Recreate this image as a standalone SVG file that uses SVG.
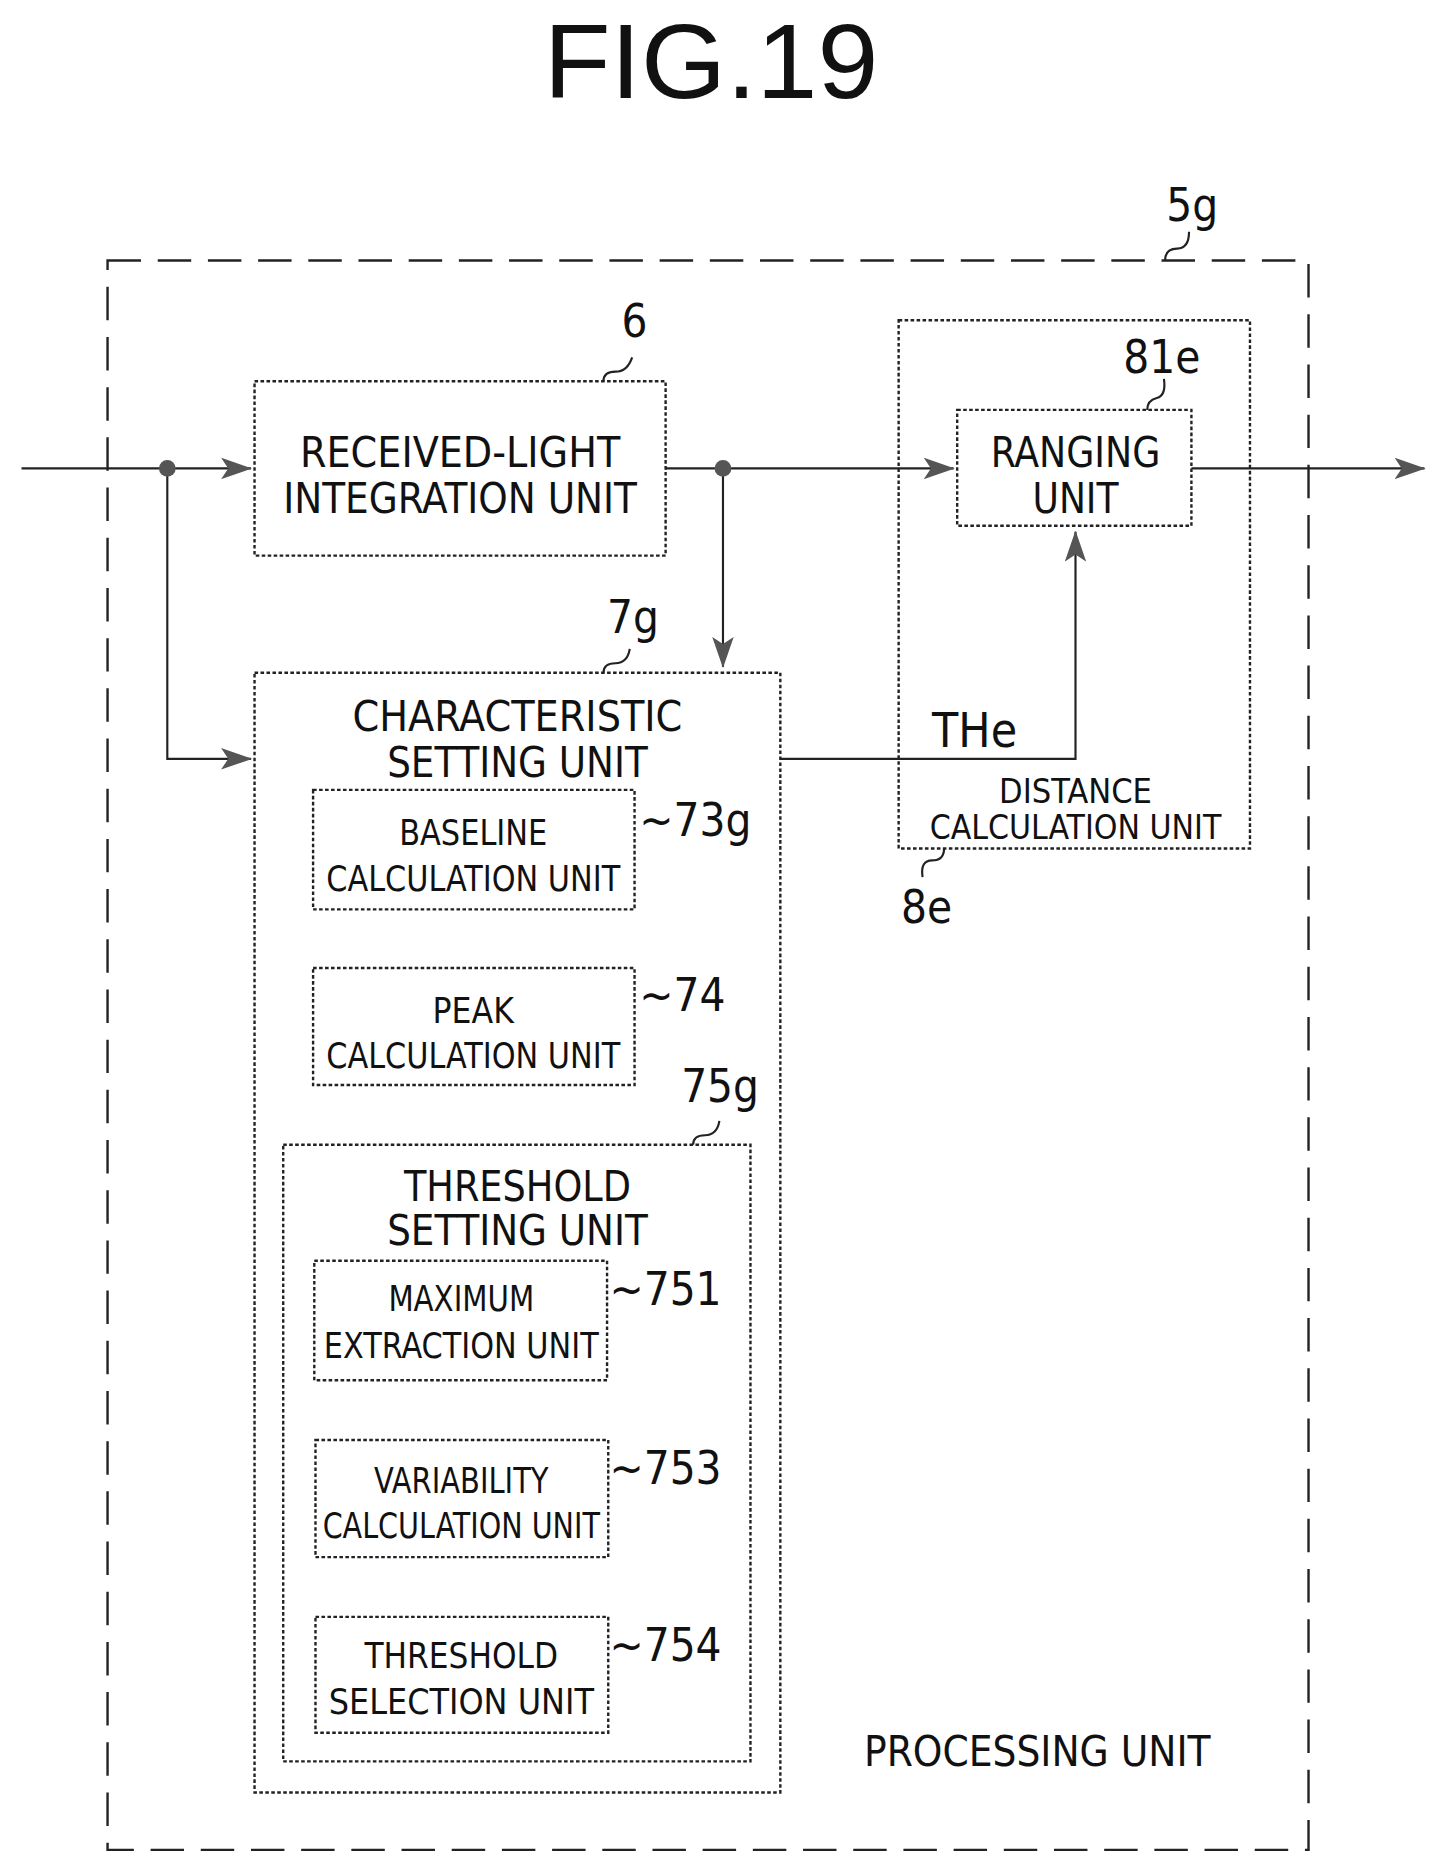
<svg xmlns="http://www.w3.org/2000/svg" width="1446" height="1876" viewBox="0 0 1446 1876">
<style>
.b{fill:none;stroke:#222;stroke-width:2;stroke-dasharray:3 2}
.o{fill:none;stroke:#222;stroke-width:2;stroke-dasharray:28 14}
.l{fill:none;stroke:#222;stroke-width:1.8}
text{font-family:"DejaVu Sans Condensed","DejaVu Sans",sans-serif;fill:#111;text-anchor:middle}
.t{font-size:35px}.s{font-size:30px}.r{font-size:38px;text-anchor:start}
</style>
<defs><marker id="a" markerWidth="26" markerHeight="18" refX="25" refY="9" orient="auto" markerUnits="userSpaceOnUse" viewBox="0 0 26 18"><path d="M0,0L26,9L0,18L6,9z" fill="#555"/></marker></defs>
<rect width="1446" height="1876" fill="#fff"/>
<g transform="scale(1.195)">
<text x="595" y="82" style="font-size:88px;font-family:'Liberation Sans',sans-serif" textLength="280" lengthAdjust="spacingAndGlyphs">FIG.19</text>
<g id="processing"><rect class="o" x="90" y="218" width="1005" height="1330"/><text class="t" x="868" y="1478" textLength="290" lengthAdjust="spacingAndGlyphs">PROCESSING UNIT</text><text class="r" x="976" y="185">5g</text><path class="l" d="M975,218q0,-10 10,-10t10,-14"/></g>
<g id="integration"><rect class="b" x="213" y="319" width="344" height="146"/><text class="t" x="385" y="391" textLength="268" lengthAdjust="spacingAndGlyphs">RECEIVED-LIGHT</text><text class="t" x="385" y="429" textLength="296" lengthAdjust="spacingAndGlyphs">INTEGRATION UNIT</text><text class="r" x="520" y="282">6</text><path class="l" d="M505,319q0,-8 10,-8t14,-12"/></g>
<g id="distance"><rect class="b" x="752" y="268" width="294" height="442"/><text x="900" y="672" style="font-size:28px" textLength="128" lengthAdjust="spacingAndGlyphs">DISTANCE</text><text x="900" y="702" style="font-size:28px" textLength="244" lengthAdjust="spacingAndGlyphs">CALCULATION UNIT</text><text class="r" x="754" y="772">8e</text><path class="l" d="M790,710q0,10 -10,10t-8,14"/></g>
<g id="ranging"><rect class="b" x="801" y="343" width="196" height="97"/><text class="t" x="900" y="391" textLength="142" lengthAdjust="spacingAndGlyphs">RANGING</text><text class="t" x="900" y="429" textLength="72" lengthAdjust="spacingAndGlyphs">UNIT</text><text class="r" x="940" y="312">81e</text><path class="l" d="M960,343q0,-8 8,-10t6,-16"/></g>
<g id="characteristic"><rect class="b" x="213" y="563" width="440" height="937"/><text class="t" x="433" y="612" textLength="276" lengthAdjust="spacingAndGlyphs">CHARACTERISTIC</text><text class="t" x="433" y="650" textLength="218" lengthAdjust="spacingAndGlyphs">SETTING UNIT</text><text class="r" x="508" y="530">7g</text><path class="l" d="M505,563q0,-8 10,-8t12,-12"/></g>
<g id="baseline"><rect class="b" x="262" y="661" width="269" height="100"/><text class="s" x="396" y="707" textLength="124" lengthAdjust="spacingAndGlyphs">BASELINE</text><text class="s" x="396" y="746" textLength="246" lengthAdjust="spacingAndGlyphs">CALCULATION UNIT</text><text class="r" x="535" y="700">~73g</text></g>
<g id="peak"><rect class="b" x="262" y="810" width="269" height="98"/><text class="s" x="396" y="856" textLength="68" lengthAdjust="spacingAndGlyphs">PEAK</text><text class="s" x="396" y="894" textLength="246" lengthAdjust="spacingAndGlyphs">CALCULATION UNIT</text><text class="r" x="535" y="846">~74</text></g>
<g id="threshold"><rect class="b" x="237" y="958" width="391" height="516"/><text class="t" x="433" y="1005" textLength="190" lengthAdjust="spacingAndGlyphs">THRESHOLD</text><text class="t" x="433" y="1042" textLength="218" lengthAdjust="spacingAndGlyphs">SETTING UNIT</text><text class="r" x="570" y="922">75g</text><path class="l" d="M580,958q0,-8 10,-8t12,-12"/></g>
<g id="maximum"><rect class="b" x="263" y="1055" width="245" height="100"/><text class="s" x="386" y="1097" textLength="122" lengthAdjust="spacingAndGlyphs">MAXIMUM</text><text class="s" x="386" y="1136" textLength="230" lengthAdjust="spacingAndGlyphs">EXTRACTION UNIT</text><text class="r" x="510" y="1092">~751</text></g>
<g id="variability"><rect class="b" x="264" y="1205" width="245" height="98"/><text class="s" x="386" y="1249" textLength="146" lengthAdjust="spacingAndGlyphs">VARIABILITY</text><text class="s" x="386" y="1287" textLength="232" lengthAdjust="spacingAndGlyphs">CALCULATION UNIT</text><text class="r" x="510" y="1242">~753</text></g>
<g id="selection"><rect class="b" x="264" y="1353" width="245" height="97"/><text class="s" x="386" y="1396" textLength="162" lengthAdjust="spacingAndGlyphs">THRESHOLD</text><text class="s" x="386" y="1434" textLength="222" lengthAdjust="spacingAndGlyphs">SELECTION UNIT</text><text class="r" x="510" y="1390">~754</text></g>
<g id="connectors">
<path class="l" d="M18,392H210" marker-end="url(#a)"/>
<path class="l" d="M140,392V635H210" marker-end="url(#a)"/>
<path class="l" d="M557,392H798" marker-end="url(#a)"/>
<path class="l" d="M605,392V558" marker-end="url(#a)"/>
<path class="l" d="M997,392H1192" marker-end="url(#a)"/>
<path class="l" d="M653,635H900V445" marker-end="url(#a)"/>
<circle cx="140" cy="392" r="7" fill="#555"/><circle cx="605" cy="392" r="7" fill="#555"/>
<text class="r" x="780" y="625" style="font-size:40px">THe</text>
</g>
</g>
</svg>
